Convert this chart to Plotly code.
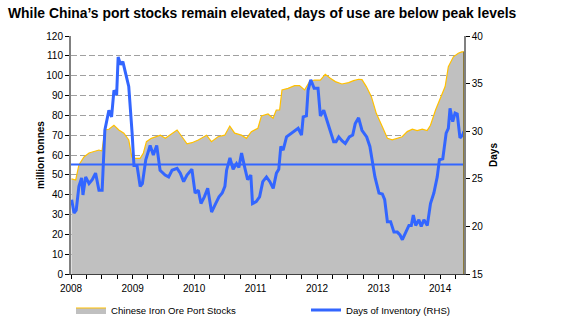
import plotly.graph_objects as go

# Chinese iron ore port stocks (million tonnes, left axis)
stock_dates = [
    "2008-01-04", "2008-01-29", "2008-02-17", "2008-03-18", "2008-04-17", "2008-05-16",
    "2008-06-15", "2008-07-03", "2008-07-20", "2008-08-13", "2008-09-12", "2008-10-11",
    "2008-11-10", "2008-12-09", "2008-12-27", "2009-01-17", "2009-02-15", "2009-03-06",
    "2009-03-24", "2009-04-22", "2009-05-22", "2009-06-15", "2009-07-14", "2009-08-10",
    "2009-09-22", "2009-10-21", "2009-11-20", "2009-12-19", "2010-01-26", "2010-03-16",
    "2010-04-14", "2010-05-23", "2010-07-02", "2010-08-01", "2010-08-30", "2010-10-09",
    "2010-11-08", "2010-12-07", "2011-01-15", "2011-02-05", "2011-03-16", "2011-04-15",
    "2011-05-04", "2011-05-24", "2011-06-07", "2011-07-13", "2011-08-21", "2011-09-19",
    "2011-10-19", "2011-11-18", "2011-12-17", "2012-01-21", "2012-02-19", "2012-03-20",
    "2012-04-19", "2012-05-28", "2012-07-07", "2012-08-05", "2012-09-04", "2012-09-24",
    "2012-10-20", "2012-11-19", "2012-12-18", "2013-01-23", "2013-02-22", "2013-03-23",
    "2013-04-22", "2013-05-21", "2013-06-20", "2013-07-20", "2013-08-18", "2013-09-17",
    "2013-10-16", "2013-11-05", "2013-12-05", "2014-01-01", "2014-01-31", "2014-02-19",
    "2014-03-21", "2014-04-19", "2014-05-10", "2014-05-23",
]
port_stocks = [
    48.0, 47.4, 55.0, 59.0, 61.0, 61.7,
    62.5, 62.0, 72.6, 73.0, 75.0, 72.6,
    71.0, 67.6, 59.0, 58.3, 58.3, 61.0,
    66.7, 68.4, 69.2, 70.0, 68.4, 70.0,
    72.6, 69.2, 65.6, 66.2, 67.6, 70.0,
    66.7, 69.2, 70.0, 74.6, 71.0, 70.0,
    68.4, 71.8, 73.5, 79.7, 80.7, 78.5,
    82.7, 82.7, 92.8, 93.6, 95.0, 95.0,
    92.8, 97.0, 97.8, 97.8, 100.7, 98.7,
    97.0, 95.8, 96.5, 97.5, 98.2, 98.0,
    94.5, 89.4, 81.0, 74.3, 68.4, 67.6,
    68.4, 69.2, 71.8, 73.0, 72.3, 73.0,
    72.3, 75.0, 82.7, 88.6, 94.5, 104.5,
    109.5, 111.3, 112.0, 112.0,
]

# Days of inventory (right axis)
days_dates = [
    "2008-01-05", "2008-01-19", "2008-02-01", "2008-02-17", "2008-03-04", "2008-03-12",
    "2008-03-28", "2008-04-17", "2008-05-06", "2008-05-26", "2008-06-15", "2008-07-04",
    "2008-07-20", "2008-08-13", "2008-08-29", "2008-09-12", "2008-09-28", "2008-10-07",
    "2008-10-21", "2008-11-04", "2008-11-20", "2008-12-09", "2008-12-29", "2009-01-09",
    "2009-01-27", "2009-02-15", "2009-02-28", "2009-03-20", "2009-04-15", "2009-05-04",
    "2009-05-24", "2009-06-13", "2009-07-13", "2009-08-03", "2009-08-23", "2009-09-22",
    "2009-10-11", "2009-10-31", "2009-11-20", "2009-12-19", "2010-01-07", "2010-01-26",
    "2010-02-11", "2010-03-03", "2010-03-23", "2010-04-06", "2010-04-15", "2010-05-09",
    "2010-05-29", "2010-06-17", "2010-07-03", "2010-07-13", "2010-08-02", "2010-08-21",
    "2010-09-10", "2010-09-24", "2010-10-10", "2010-10-30", "2010-11-15", "2010-12-04",
    "2010-12-14", "2011-01-05", "2011-01-25", "2011-02-13", "2011-03-07", "2011-03-27",
    "2011-04-16", "2011-05-05", "2011-05-19", "2011-05-31", "2011-06-14", "2011-07-04",
    "2011-08-02", "2011-08-22", "2011-09-11", "2011-10-01", "2011-10-11", "2011-10-30",
    "2011-11-09", "2011-11-25", "2011-12-15", "2012-01-07", "2012-01-21", "2012-02-10",
    "2012-03-01", "2012-03-20", "2012-04-09", "2012-04-23", "2012-05-09", "2012-05-28",
    "2012-06-17", "2012-07-11", "2012-07-31", "2012-08-15", "2012-09-04", "2012-09-24",
    "2012-10-22", "2012-11-10", "2012-11-26", "2012-12-10", "2013-01-03", "2013-01-23",
    "2013-02-06", "2013-02-22", "2013-03-13", "2013-04-02", "2013-04-22", "2013-05-08",
    "2013-05-22", "2013-06-10", "2013-06-30", "2013-07-14", "2013-07-26", "2013-08-09",
    "2013-08-28", "2013-09-11", "2013-09-27", "2013-10-17", "2013-11-05", "2013-11-25",
    "2013-12-15", "2013-12-28", "2014-01-17", "2014-02-06", "2014-02-19", "2014-03-01",
    "2014-03-17", "2014-03-31", "2014-04-13", "2014-04-29", "2014-05-15", "2014-05-23",
]
days_of_inventory = [
    22.8, 21.4, 21.7, 24.2, 25.1, 23.3,
    25.2, 24.5, 24.9, 25.6, 23.8, 23.8,
    30.1, 32.2, 31.5, 34.3, 33.8, 37.8,
    37.0, 37.3, 36.1, 34.7, 29.8, 26.4,
    26.4, 24.2, 24.5, 27.0, 28.5, 27.5,
    28.5, 25.9, 25.4, 25.2, 25.9, 26.1,
    25.6, 24.7, 25.4, 26.0, 23.5, 23.8,
    22.4, 23.1, 24.0, 22.4, 21.5, 22.4,
    23.1, 23.5, 24.2, 25.9, 27.2, 26.0,
    26.6, 26.2, 27.7, 26.1, 24.9, 25.4,
    22.4, 22.6, 23.1, 24.7, 25.2, 24.7,
    24.0, 25.6, 26.0, 28.4, 28.0, 29.4,
    29.8, 30.1, 30.3, 29.6, 31.5, 31.6,
    34.3, 35.4, 34.5, 34.5, 31.6, 32.2,
    31.0, 30.1, 28.9, 28.9, 29.4, 29.0,
    28.7, 29.4, 29.6, 30.8, 31.4, 30.1,
    29.4, 28.4, 26.4, 25.2, 23.5, 23.4,
    22.8, 20.5, 20.5, 19.4, 19.4, 19.1,
    18.6, 19.4, 20.1, 20.1, 21.2, 20.1,
    20.7, 20.0, 20.7, 20.1, 22.4, 23.5,
    25.2, 27.0, 27.1, 29.8, 30.3, 32.4,
    31.0, 31.9, 31.8, 29.3, 29.6, 30.0,
]

# Long-run average days of inventory
avg_days = 26.5

x_range = ["2008-01-01", "2014-05-23"]
title_text = "While China’s port stocks remain elevated, days of use are below peak levels"

FONT = "Liberation Sans, Arial, sans-serif"
BLUE = "#3366ff"
GOLD = "#ffc000"
GREY_FILL = "#c0c0c0"

fig = go.Figure()

fig.add_trace(go.Scatter(
    x=stock_dates, y=port_stocks, name="Chinese Iron Ore Port Stocks",
    mode="lines", fill="tozeroy", fillcolor=GREY_FILL,
    line=dict(color=GOLD, width=1.2), yaxis="y", legend="legend",
))
fig.add_trace(go.Scatter(
    x=days_dates, y=days_of_inventory, name="Days of Inventory (RHS)",
    mode="lines", line=dict(color=BLUE, width=3), yaxis="y2", legend="legend2",
))
fig.add_trace(go.Scatter(
    x=x_range, y=[avg_days, avg_days], mode="lines",
    line=dict(color=BLUE, width=2), yaxis="y2", showlegend=False,
))

# right-hand edge of the stocks area
fig.add_shape(type="line", xref="x", yref="y",
              x0=stock_dates[-1], x1=stock_dates[-1], y0=0, y1=port_stocks[-1],
              line=dict(color="#8c7a3a", width=2))

fig.update_layout(
    width=567, height=327,
    margin=dict(l=71, r=103, t=36, b=53, autoexpand=False),
    paper_bgcolor="white", plot_bgcolor="white",
    font=dict(family=FONT, size=10, color="black"),
    title=dict(text=title_text, font=dict(family=FONT, size=13.9, color="black", weight="bold"),
               x=8 / 567, xanchor="left", xref="container",
               y=1 - 13 / 327, yanchor="middle", yref="container"),
    xaxis=dict(
        type="date", range=x_range, dtick="M12", tick0="2008-01-01", tickformat="%Y",
        ticks="outside", ticklen=4, tickcolor="black", showgrid=False,
        showline=True, linecolor="#404040", linewidth=1, ticklabelstandoff=1,
        minor=dict(dtick="M3", ticks="outside", ticklen=4, tickcolor="black", showgrid=False),
        tickfont=dict(size=10),
    ),
    yaxis=dict(
        range=[0, 120], dtick=10, ticks="outside", ticklen=4, tickcolor="black",
        showline=True, linecolor="#808080", linewidth=2,
        showgrid=True, gridcolor="#a0a0a0", griddash="6px,3px", gridwidth=1,
        zeroline=False,
        title=dict(text="million tonnes", font=dict(size=10, weight="bold"), standoff=0),
        tickfont=dict(size=10),
    ),
    yaxis2=dict(
        range=[15, 40], dtick=5, overlaying="y", side="right",
        ticks="outside", ticklen=4, tickcolor="black",
        showline=True, linecolor="#808080", linewidth=1.5,
        showgrid=False, zeroline=False,
        title=dict(text="Days", font=dict(size=10, weight="bold"), standoff=8),
        tickfont=dict(size=10),
    ),
    legend=dict(orientation="h", x=0.0, xanchor="left", y=1 - 310 / 327, yanchor="middle",
                yref="container", font=dict(size=9.6), bgcolor="rgba(0,0,0,0)"),
    legend2=dict(orientation="h", x=0.598, xanchor="left", y=1 - 310 / 327, yanchor="middle",
                 yref="container", font=dict(size=9.6), bgcolor="rgba(0,0,0,0)"),
)

fig.write_html("out.html")
